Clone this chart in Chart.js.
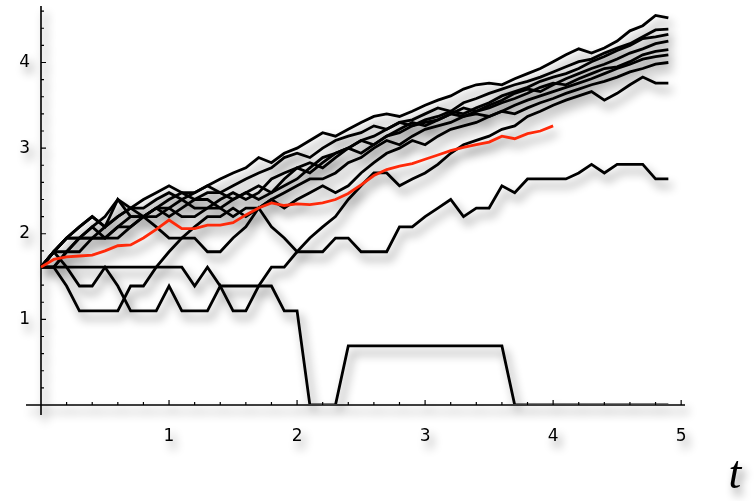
<!DOCTYPE html>
<html>
<head>
<meta charset="utf-8">
<script src="https://cdn.jsdelivr.net/npm/chart.js@4.4.0/dist/chart.umd.min.js"></script>
<style>
  html, body { margin: 0; padding: 0; background: #fff; }
  #wrap { width: 756px; height: 501px; }
</style>
</head>
<body>
<div id="wrap"><canvas id="chart" width="756" height="501"></canvas></div>
<script>
// Tiempos de muestreo (t)
const tiempos = [0, 0.1, 0.2, 0.3, 0.4, 0.5, 0.6, 0.7, 0.8, 0.9,
                 1.0, 1.1, 1.2, 1.3, 1.4, 1.5, 1.6, 1.7, 1.8, 1.9,
                 2.0, 2.1, 2.2, 2.3, 2.4, 2.5, 2.6, 2.7, 2.8, 2.9,
                 3.0, 3.1, 3.2, 3.3, 3.4, 3.5, 3.6, 3.7, 3.8, 3.9,
                 4.0, 4.1, 4.2, 4.3, 4.4, 4.5, 4.6, 4.7, 4.8, 4.9];

// Trayectorias (log del tamaño de la población)
const rutaExtinta = [1.61, 1.61, 1.61, 1.61, 1.61, 1.61, 1.61, 1.61, 1.61, 1.61,
                     1.61, 1.61, 1.39, 1.61, 1.39, 1.39, 1.39, 1.39, 1.39, 1.10,
                     1.10, 0, 0, 0, 0.69, 0.69, 0.69, 0.69, 0.69, 0.69,
                     0.69, 0.69, 0.69, 0.69, 0.69, 0.69, 0.69, 0, 0, 0,
                     0, 0, 0, 0, 0, 0, 0, 0, 0, 0];
const rutaLenta = [1.61, 1.79, 1.61, 1.39, 1.39, 1.61, 1.39, 1.10, 1.10, 1.10,
                   1.39, 1.10, 1.10, 1.10, 1.39, 1.10, 1.10, 1.39, 1.61, 1.61,
                   1.79, 1.79, 1.79, 1.95, 1.95, 1.79, 1.79, 1.79, 2.08, 2.08,
                   2.20, 2.30, 2.40, 2.20, 2.30, 2.30, 2.56, 2.48, 2.64, 2.64,
                   2.64, 2.64, 2.71, 2.81, 2.71, 2.81, 2.81, 2.81, 2.64, 2.64];
const ruta1 = [1.61, 1.61, 1.39, 1.10, 1.10, 1.10, 1.10, 1.39, 1.39, 1.61,
               1.79, 1.95, 2.08, 2.20, 2.20, 2.30, 2.20, 2.30, 2.40, 2.30,
               2.40, 2.48, 2.56, 2.48, 2.56, 2.71, 2.83, 2.94, 3.00, 3.09,
               3.04, 3.14, 3.22, 3.26, 3.30, 3.37, 3.43, 3.40, 3.47, 3.53,
               3.58, 3.64, 3.69, 3.74, 3.78, 3.83, 3.89, 3.93, 3.98, 4.00];
const ruta2 = [1.61, 1.79, 1.95, 2.08, 2.20, 2.08, 2.40, 2.20, 2.20, 2.08,
               1.95, 1.95, 1.95, 1.79, 1.79, 1.95, 2.08, 2.30, 2.08, 1.95,
               1.79, 1.95, 2.08, 2.20, 2.40, 2.56, 2.71, 2.71, 2.56, 2.64,
               2.71, 2.81, 2.94, 3.04, 3.09, 3.14, 3.22, 3.26, 3.37, 3.43,
               3.50, 3.56, 3.61, 3.66, 3.56, 3.64, 3.74, 3.83, 3.76, 3.76];
const ruta3 = [1.61, 1.79, 1.95, 2.08, 2.20, 2.08, 2.20, 2.30, 2.40, 2.48,
               2.56, 2.48, 2.48, 2.56, 2.64, 2.71, 2.77, 2.89, 2.83, 2.94,
               3.00, 3.09, 3.18, 3.14, 3.22, 3.30, 3.37, 3.40, 3.37, 3.43,
               3.50, 3.56, 3.61, 3.69, 3.74, 3.76, 3.74, 3.81, 3.87, 3.93,
               4.01, 4.09, 4.16, 4.11, 4.17, 4.25, 4.37, 4.43, 4.55, 4.52];
const ruta4 = [1.61, 1.79, 1.95, 1.95, 1.95, 2.08, 2.20, 2.30, 2.20, 2.30,
               2.40, 2.48, 2.40, 2.48, 2.48, 2.56, 2.64, 2.71, 2.77, 2.89,
               2.94, 2.89, 3.00, 3.09, 3.14, 3.18, 3.26, 3.22, 3.30, 3.33,
               3.40, 3.47, 3.43, 3.53, 3.58, 3.64, 3.69, 3.74, 3.78, 3.83,
               3.89, 3.95, 4.01, 4.04, 4.11, 4.17, 4.22, 4.30, 4.38, 4.39];
const ruta5 = [1.61, 1.61, 1.79, 1.95, 1.95, 1.95, 2.08, 2.08, 2.20, 2.30,
               2.30, 2.40, 2.30, 2.30, 2.40, 2.48, 2.40, 2.48, 2.64, 2.71,
               2.77, 2.83, 2.77, 2.89, 3.00, 3.09, 3.14, 3.22, 3.30, 3.26,
               3.33, 3.37, 3.43, 3.40, 3.47, 3.53, 3.61, 3.66, 3.71, 3.78,
               3.83, 3.87, 3.93, 4.01, 4.07, 4.14, 4.20, 4.28, 4.30, 4.33];
const ruta6 = [1.61, 1.79, 1.79, 1.95, 2.08, 1.95, 2.08, 2.20, 2.20, 2.30,
               2.20, 2.30, 2.40, 2.40, 2.30, 2.40, 2.48, 2.56, 2.48, 2.56,
               2.64, 2.77, 2.89, 2.94, 3.00, 2.94, 3.04, 3.14, 3.18, 3.26,
               3.30, 3.33, 3.40, 3.47, 3.43, 3.50, 3.56, 3.64, 3.69, 3.66,
               3.74, 3.81, 3.87, 3.93, 3.98, 4.04, 4.11, 4.16, 4.22, 4.25];
const ruta7 = [1.61, 1.79, 1.95, 1.95, 2.08, 2.20, 2.40, 2.30, 2.30, 2.40,
               2.48, 2.40, 2.48, 2.56, 2.48, 2.40, 2.48, 2.40, 2.48, 2.64,
               2.77, 2.71, 2.83, 2.94, 3.00, 3.09, 3.04, 3.14, 3.22, 3.30,
               3.26, 3.33, 3.40, 3.37, 3.43, 3.47, 3.53, 3.58, 3.64, 3.71,
               3.76, 3.74, 3.81, 3.87, 3.93, 3.95, 4.01, 4.09, 4.13, 4.15];
const ruta8 = [1.61, 1.61, 1.79, 1.79, 1.95, 1.95, 1.95, 2.08, 2.20, 2.20,
               2.30, 2.20, 2.20, 2.30, 2.30, 2.20, 2.30, 2.30, 2.40, 2.48,
               2.56, 2.64, 2.64, 2.71, 2.83, 2.89, 3.00, 3.09, 3.04, 3.14,
               3.22, 3.26, 3.30, 3.37, 3.40, 3.37, 3.43, 3.50, 3.56, 3.61,
               3.66, 3.71, 3.76, 3.81, 3.87, 3.93, 3.98, 4.04, 4.07, 4.09];

// Promedio (línea roja), de t = 0 a t = 4
const promedio = [1.61, 1.70, 1.73, 1.74, 1.75, 1.80, 1.86, 1.87, 1.95, 2.05,
                  2.16, 2.06, 2.06, 2.10, 2.10, 2.13, 2.22, 2.30, 2.36, 2.33,
                  2.35, 2.34, 2.36, 2.40, 2.47, 2.57, 2.68, 2.75, 2.79, 2.82,
                  2.87, 2.92, 2.97, 3.01, 3.04, 3.07, 3.14, 3.11, 3.17, 3.20,
                  3.26];

// Marcas de los ejes
const xEtiquetas = [1, 2, 3, 4, 5];
const yEtiquetas = [1, 2, 3, 4];

const rutas = [rutaExtinta, rutaLenta, ruta1, ruta2, ruta3, ruta4, ruta5, ruta6, ruta7, ruta8];

function puntos(valores) {
    return valores.map((v, i) => ({ x: tiempos[i], y: v }));
}

// recorte: deja pasar arriba/derecha, corta justo sobre el eje horizontal
const recorte = { left: 2, top: 10, right: 10, bottom: -1 };

const datasets = rutas.map(r => ({
    data: puntos(r),
    borderColor: '#000',
    borderWidth: 2.8,
    pointRadius: 0,
    tension: 0,
    clip: recorte,
    order: 1
}));
datasets.push({
    data: puntos(promedio),
    borderColor: '#ff2a0a',
    borderWidth: 2.8,
    pointRadius: 0,
    tension: 0,
    clip: recorte,
    order: 0
});

// Ejes al estilo Mathematica, cruzando en el origen
const ejes = {
    id: 'ejes',
    beforeDatasetsDraw(chart) {
        const ctx = chart.ctx;
        const sx = chart.scales.x, sy = chart.scales.y;
        const x0 = sx.getPixelForValue(0), y0 = sy.getPixelForValue(0);
        ctx.save();
        ctx.strokeStyle = '#000';
        ctx.lineWidth = 1.6;
        ctx.beginPath();
        ctx.moveTo(x0 - 15, y0);
        ctx.lineTo(sx.getPixelForValue(sx.max), y0);
        ctx.moveTo(x0, y0 + 10);
        ctx.lineTo(x0, sy.getPixelForValue(sy.max));
        ctx.stroke();

        ctx.lineWidth = 1.2;
        ctx.beginPath();
        for (let i = 1; i <= 25; i++) {
            const px = sx.getPixelForValue(i * 0.2);
            const largo = (i % 5 === 0) ? 5 : 3;
            ctx.moveTo(px, y0);
            ctx.lineTo(px, y0 - largo);
        }
        for (let i = 1; i <= 23; i++) {
            const py = sy.getPixelForValue(i * 0.2);
            const largo = (i % 5 === 0) ? 5 : 3;
            ctx.moveTo(x0, py);
            ctx.lineTo(x0 + largo, py);
        }
        ctx.stroke();

        ctx.fillStyle = '#000';
        ctx.font = '17px "DejaVu Sans"';
        ctx.textAlign = 'center';
        ctx.textBaseline = 'middle';
        xEtiquetas.forEach(v => ctx.fillText(String(v), sx.getPixelForValue(v), y0 + 32));
        ctx.textAlign = 'right';
        yEtiquetas.forEach(v => ctx.fillText(String(v), x0 - 11, sy.getPixelForValue(v)));

        ctx.font = 'italic 46px "Liberation Serif"';
        ctx.textAlign = 'center';
        ctx.textBaseline = 'alphabetic';
        ctx.fillText('t', 735, 488);
        ctx.restore();
    }
};

// Sombra difusa de todo el gráfico
const sombra = {
    id: 'sombra',
    afterDraw(chart) {
        const c = chart.canvas, ctx = chart.ctx;
        const copia = document.createElement('canvas');
        copia.width = c.width;
        copia.height = c.height;
        copia.getContext('2d').drawImage(c, 0, 0);
        ctx.save();
        ctx.setTransform(1, 0, 0, 1, 0, 0);
        ctx.clearRect(0, 0, c.width, c.height);
        ctx.shadowColor = 'rgba(0, 0, 0, 0.48)';
        ctx.shadowBlur = 10;
        ctx.shadowOffsetX = 4;
        ctx.shadowOffsetY = 7;
        ctx.drawImage(copia, 0, 0);
        ctx.restore();
    }
};

new Chart(document.getElementById('chart'), {
    type: 'line',
    data: { datasets },
    options: {
        responsive: false,
        animation: false,
        events: [],
        layout: { padding: { left: 41, right: 71, top: 6, bottom: 96 } },
        plugins: { legend: { display: false }, tooltip: { enabled: false } },
        scales: {
            x: { type: 'linear', min: 0, max: 5.03, display: false },
            y: { type: 'linear', min: 0, max: 4.66, display: false }
        }
    },
    plugins: [ejes, sombra]
});
</script>
</body>
</html>
